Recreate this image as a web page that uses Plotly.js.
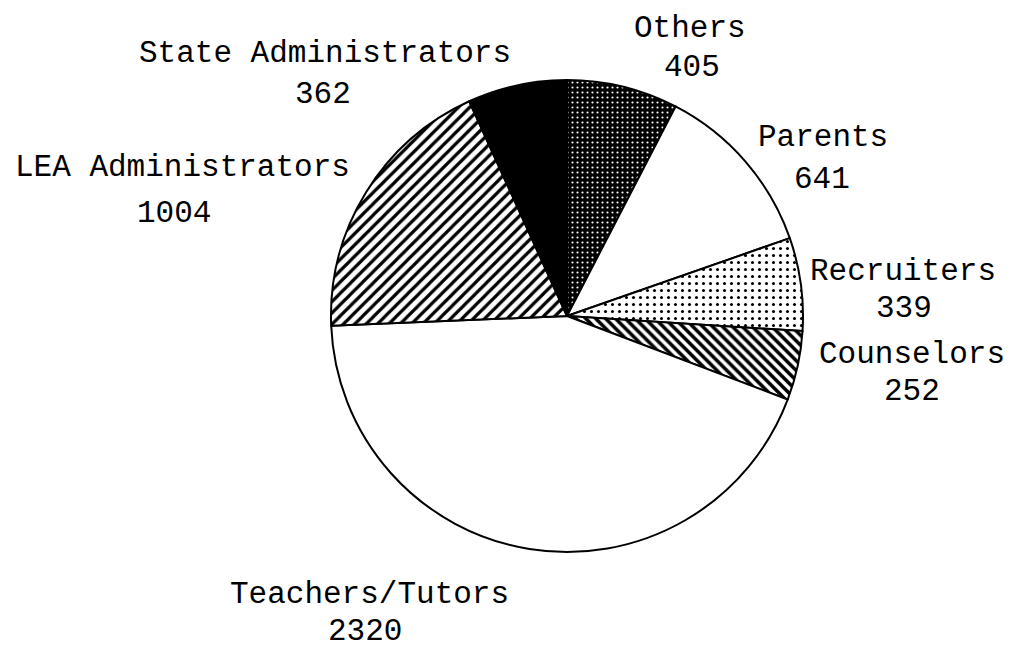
<!DOCTYPE html>
<html>
<head>
<meta charset="utf-8">
<script src="https://cdn.plot.ly/plotly-3.0.1.min.js"></script>
<style>html,body{margin:0;padding:0;background:#fff;}#chart{width:1016px;height:656px;}</style>
</head>
<body>
<div id="chart"></div>
<script>
// Data (clockwise from 12 o'clock)
var categories = ["Others", "Parents", "Recruiters", "Counselors", "Teachers/Tutors", "LEA Administrators", "State Administrators"];
var counts = [405, 641, 339, 252, 2320, 1004, 362];

// Styles per slice
var fillColors = ["#000000", "#ffffff", "#ffffff", "#ffffff", "#ffffff", "#ffffff", "#000000"];
var patternShapes = [".", "", ".", "\\", "", "/", ""];
var patternFg = ["#ffffff", "#000000", "#000000", "#000000", "#000000", "#000000", "#000000"];
var patternSize = [5, 8, 7, 7, 8, 8, 8];
var patternSolidity = [0.15, 0.3, 0.15, 0.5, 0.3, 0.4, 0.3];

// Label placement (pixel centers: [name x, name y, value x, value y])
var labelPos = [
  [690, 28, 692, 68],
  [823, 138, 822, 179],
  [903, 271, 904, 308],
  [912, 354, 912, 391],
  [369, 594, 365, 631],
  [182, 167, 174, 214],
  [325, 53, 323, 95]
];

var W = 1016, H = 656;
function px(x) { return x / W; }
function py(y) { return 1 - y / H; }

var labelFont = {family: "Liberation Mono, DejaVu Sans Mono, monospace", size: 31, color: "#000"};
var annotations = [];
categories.forEach(function (c, i) {
  var p = labelPos[i];
  annotations.push({text: c, x: px(p[0]), y: py(p[1]), xref: "paper", yref: "paper",
    xanchor: "center", yanchor: "middle", showarrow: false, borderpad: 0, font: labelFont});
  annotations.push({text: String(counts[i]), x: px(p[2]), y: py(p[3]), xref: "paper", yref: "paper",
    xanchor: "center", yanchor: "middle", showarrow: false, borderpad: 0, font: labelFont});
});

var trace = {
  type: "pie",
  labels: categories,
  values: counts,
  sort: false,
  direction: "clockwise",
  rotation: 0,
  textinfo: "none",
  hoverinfo: "label+value",
  domain: {x: [px(331), px(803)], y: [py(553), py(79)]},
  marker: {
    colors: fillColors,
    line: {color: "#000000", width: 2},
    pattern: {
      shape: patternShapes,
      fgcolor: patternFg,
      bgcolor: fillColors,
      size: patternSize,
      solidity: patternSolidity,
      fillmode: "replace"
    }
  }
};

var layout = {
  width: W, height: H,
  margin: {l: 0, r: 0, t: 0, b: 0},
  paper_bgcolor: "#ffffff",
  plot_bgcolor: "#ffffff",
  showlegend: false,
  annotations: annotations
};

Plotly.newPlot("chart", [trace], layout, {displayModeBar: false, staticPlot: true});
</script>
</body>
</html>
